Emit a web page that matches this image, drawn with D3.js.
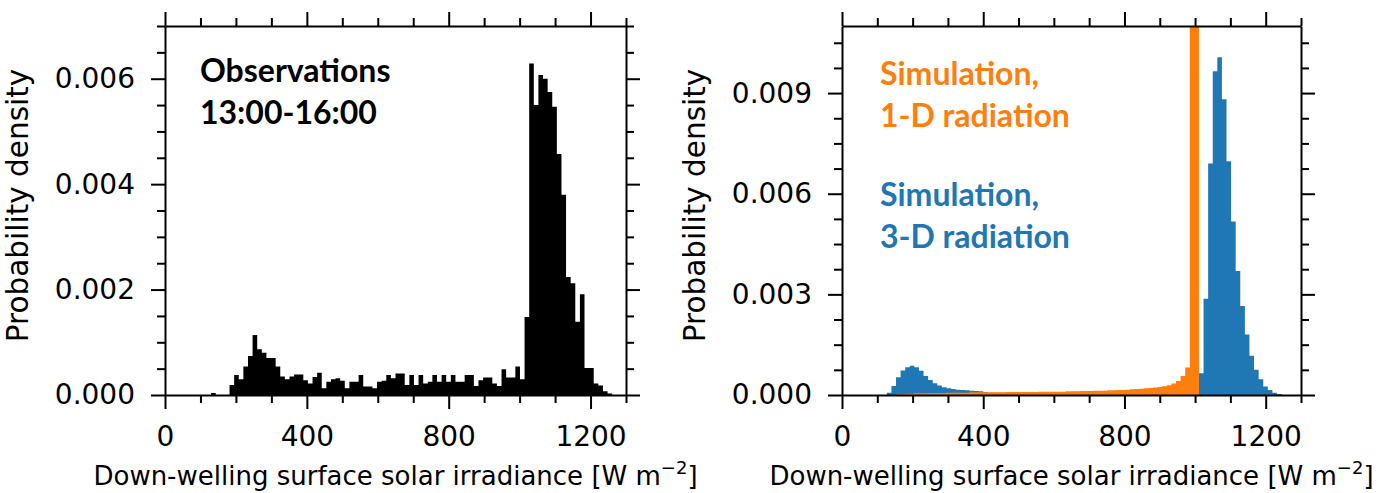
<!DOCTYPE html>
<html>
<head>
<meta charset="utf-8">
<script src="https://cdn.jsdelivr.net/npm/d3@7"></script>
<style>
  html, body { margin: 0; padding: 0; background: #ffffff; }
  svg { display: block; }
  .tick text { font-family: "DejaVu Sans", sans-serif; font-size: 28px; fill: #000; }
  .axis-title { font-family: "DejaVu Sans", sans-serif; fill: #000; }
  .note { font-family: Lato, "Open Sans", sans-serif; font-weight: 700; font-size: 32px; }
</style>
</head>
<body>
<svg id="chart" width="1395" height="493"></svg>
<script>
// Histogram bin width [W m-2]
const binWidth = 13;

// Observations 13:00-16:00: left edge of first bin and densities per bin
const obsStart = 130;
const obsDensity = [
  0.00004, 0, 0, 0, 0.00019, 0.00038, 0.0003, 0.00054, 0.00074, 0.00114,
  0.00087, 0.0008, 0.0007, 0.0007, 0.00054, 0.00035, 0.0003, 0.00035, 0.00039, 0.00039,
  0.00028, 0.00022, 0.00034, 0.00042, 0.00013, 0.00025, 0.0003, 0.00032, 0.00027, 0.00013,
  0.00025, 0.00025, 0.00038, 0.00016, 0.00016, 0.00013, 0.00025, 0.00027, 0.00038, 0.00032,
  0.00041, 0.00041, 0.00019, 0.00038, 0.00019, 0.00038, 0.00022, 0.00025, 0.00038, 0.00025,
  0.00038, 0.00025, 0.00038, 0.00025, 0.00025, 0.00038, 0.00038, 0.00017, 0.00028, 0.00033,
  0.00033, 0.00022, 0.00017, 0.00049, 0.00033, 0.00033, 0.00054, 0.0003, 0.00148, 0.00629,
  0.0055, 0.00607, 0.006, 0.00575, 0.00547, 0.00457, 0.0038, 0.00224, 0.00212, 0.00139,
  0.00191, 0.00051, 0.00051, 0.00022, 0.00018, 0.00007, 0.00003
];

// Simulation with 3-D radiation
const sim3dStart = 127;
const sim3dDensity = [
  0.00007, 0.00027, 0.00053, 0.00073, 0.00083, 0.00087, 0.00083, 0.00072, 0.00057, 0.00045,
  0.00035, 0.00028, 0.00023, 0.0002, 0.00018, 0.00016, 0.00015, 0.00014, 0.00013, 0.00012,
  0.00011, 0.00009, 0.00007, 0.00007, 0.00007, 0.00007, 0.00007, 0.00007, 0.00007, 0.00007,
  0.00007, 0.00007, 0.00007, 0.00007, 0.00007, 0.00007, 0.00007, 0.00007, 0.00007, 0.00007,
  0.00007, 0.00007, 0.00007, 0.00007, 0.00006, 0.00006, 0.00006, 0.00006, 0.00006, 0.00006,
  0.00006, 0.00006, 0.00006, 0.00006, 0.00006, 0.00006, 0.00006, 0.00006, 0.00006, 0.00006,
  0.00006, 0.00006, 0.00006, 0.00007, 0.00007, 0.00008, 0.0001, 0.00012, 0.00065, 0.00287,
  0.0069, 0.00965, 0.01007, 0.00882, 0.00697, 0.00517, 0.0037, 0.00265, 0.0018, 0.00117,
  0.00075, 0.00047, 0.00025, 0.00015, 0.00007, 0.00003
];

// Simulation with 1-D radiation
const sim1dStart = 153;
const sim1dDensity = [
  0.00002, 0.00003, 0.00004, 0.00004, 0.00005, 0.00005, 0.00005, 0.00006, 0.00006, 0.00006,
  0.00006, 0.00007, 0.00007, 0.00007, 0.00007, 0.00007, 0.00008, 0.00008, 0.00008, 0.00008,
  0.00008, 0.00008, 0.00008, 0.00008, 0.00009, 0.00009, 0.00009, 0.00009, 0.00009, 0.00009,
  0.00009, 0.0001, 0.0001, 0.0001, 0.0001, 0.0001, 0.0001, 0.00011, 0.00011, 0.00011,
  0.00012, 0.00012, 0.00012, 0.00013, 0.00013, 0.00013, 0.00014, 0.00014, 0.00015, 0.00015,
  0.00016, 0.00017, 0.00018, 0.00019, 0.0002, 0.00021, 0.00022, 0.00024, 0.00026, 0.00029,
  0.00034, 0.00042, 0.00057, 0.00082, 0.035, 0.02
];

// Axis ticks
const xMajorTicks = [0, 400, 800, 1200];
const xMinorTicks = [100, 200, 300, 500, 600, 700, 900, 1000, 1100, 1300];
const obsYMajor = [0, 0.002, 0.004, 0.006];
const obsYMinor = [0.0005, 0.001, 0.0015, 0.0025, 0.003, 0.0035, 0.0045, 0.005, 0.0055, 0.0065, 0.007];
const simYMajor = [0, 0.003, 0.006, 0.009];
const simYMinor = [0.00075, 0.0015, 0.00225, 0.00375, 0.0045, 0.00525, 0.00675, 0.0075, 0.00825, 0.00975, 0.0105];

const xDomain = [0, 1300];
const obsYDomain = [0, 0.007];
const simYDomain = [0, 0.011];

const colObs = "#000000";
const col3d = "#1f77b4";
const col1d = "#ff7f0e";

const svg = d3.select("#chart");
const plotTop = 26, plotBottom = 395;
const majorLen = 14, minorLen = 8;

function panel(id, left, right, yDomain, yMajor, yMinor, series) {
  const x = d3.scaleLinear().domain(xDomain).range([left, right]);
  const y = d3.scaleLinear().domain(yDomain).range([plotBottom, plotTop]);
  const g = svg.append("g");

  g.append("clipPath").attr("id", id)
    .append("rect").attr("x", left).attr("y", plotTop)
    .attr("width", right - left).attr("height", plotBottom - plotTop);

  // each histogram is one filled step outline, so adjacent bins have no seams
  const area = d3.area()
    .x(d => x(d.e))
    .y0(y(0))
    .y1(d => y(d.v));
  const bars = g.append("g").attr("clip-path", `url(#${id})`);
  series.forEach(s => {
    const steps = s.values.flatMap((v, i) => [
      { e: s.start + i * binWidth, v },
      { e: s.start + (i + 1) * binWidth, v }
    ]);
    bars.append("path").datum(steps)
      .attr("d", area)
      .attr("fill", s.color);
  });

  const axes = [
    { make: d3.axisBottom, scale: x, tr: `translate(0,${plotBottom})`, major: xMajorTicks, minor: xMinorTicks, labels: true, pad: 17 },
    { make: d3.axisTop, scale: x, tr: `translate(0,${plotTop})`, major: xMajorTicks, minor: xMinorTicks, labels: false, pad: 10 },
    { make: d3.axisLeft, scale: y, tr: `translate(${left},0)`, major: yMajor, minor: yMinor, labels: true, fmt: d3.format(".3f"), pad: 16 },
    { make: d3.axisRight, scale: y, tr: `translate(${right},0)`, major: yMajor, minor: yMinor, labels: false, pad: 10 }
  ];
  axes.forEach(ax => {
    const minorG = g.append("g").attr("transform", ax.tr)
      .call(ax.make(ax.scale).tickValues(ax.minor).tickSize(minorLen).tickSizeOuter(0).tickFormat(""));
    minorG.select(".domain").remove();
    const majorG = g.append("g").attr("transform", ax.tr)
      .call(ax.make(ax.scale).tickValues(ax.major).tickSize(majorLen).tickSizeOuter(0)
        .tickPadding(ax.pad)
        .tickFormat(ax.labels ? (ax.fmt || d3.format("d")) : ""));
    [minorG, majorG].forEach(a => {
      a.selectAll("line").attr("stroke", "#000").attr("stroke-width", 2);
      a.selectAll(".domain").attr("stroke", "#000").attr("stroke-width", 2);
    });
  });

  const cx = (left + right) / 2;
  const xt = g.append("text").attr("class", "axis-title")
    .attr("x", cx).attr("y", 485).attr("text-anchor", "middle")
    .style("font-size", "26px");
  xt.append("tspan").text("Down-welling surface solar irradiance [W m");
  xt.append("tspan").attr("dy", -11).style("font-size", "18px").text("\u22122");
  xt.append("tspan").attr("dy", 11).text("]");

  g.append("text").attr("class", "axis-title")
    .attr("transform", `translate(${left - 137},${(plotTop + plotBottom) / 2 - 5}) rotate(-90)`)
    .attr("text-anchor", "middle")
    .style("font-size", "29.5px")
    .text("Probability density");
}

panel("clipObs", 165, 626, obsYDomain, obsYMajor, obsYMinor,
  [{ start: obsStart, values: obsDensity, color: colObs }]);
panel("clipSim", 842, 1301, simYDomain, simYMajor, simYMinor,
  [{ start: sim3dStart, values: sim3dDensity, color: col3d },
   { start: sim1dStart, values: sim1dDensity, color: col1d }]);

function note(lines, x, y0, color) {
  lines.forEach((t, i) => {
    svg.append("text").attr("class", "note")
      .attr("x", x).attr("y", y0 + i * 42)
      .attr("fill", color).text(t);
  });
}
note(["Observations", "13:00-16:00"], 200, 82, "#000");
note(["Simulation,", "1-D radiation"], 880, 85, col1d);
note(["Simulation,", "3-D radiation"], 880, 206, col3d);
</script>
</body>
</html>
